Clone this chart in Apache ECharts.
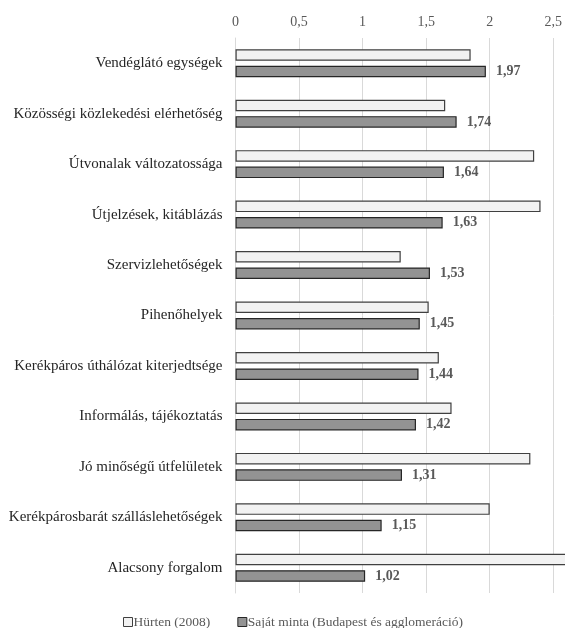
<!DOCTYPE html>
<html>
<head>
<meta charset="utf-8">
<script src="https://cdn.jsdelivr.net/npm/echarts@6/dist/echarts.min.js"></script>
<style>html,body{margin:0;padding:0;background:#fff}#c{width:565px;height:628px}</style>
</head>
<body>
<div id="c"></div>
<script>
const categories = ["Vendéglátó egységek","Közösségi közlekedési elérhetőség","Útvonalak változatossága","Útjelzések, kitáblázás","Szervizlehetőségek","Pihenőhelyek","Kerékpáros úthálózat kiterjedtsége","Informálás, tájékoztatás","Jó minőségű útfelületek","Kerékpárosbarát szálláslehetőségek","Alacsony forgalom"];
const hurten = [1.85,1.65,2.35,2.4,1.3,1.52,1.6,1.7,2.32,2.0,2.65];
const sajat = [1.97,1.74,1.64,1.63,1.53,1.45,1.44,1.42,1.31,1.15,1.02];
const seriesNames = ["Hürten (2008)","Saját minta (Budapest és agglomeráció)"];
const xTicks = [0,0.5,1,1.5,2,2.5];

const font = "'Liberation Serif','Times New Roman',serif";
const chart = echarts.init(document.getElementById('c'), null, {renderer:'canvas'});
chart.setOption({
  animation:false,
  textStyle:{fontFamily:font},
  grid:{left:235.5,right:10,top:38,bottom:35,containLabel:false},
  legend:{
    bottom:-6, left:118,
    itemWidth:9,itemHeight:9,itemGap:27,
    textStyle:{fontFamily:font,fontSize:13.5,color:'#595959',padding:[0,0,0,-4]},
    data:[
      {name:seriesNames[0],icon:'rect',itemStyle:{color:'#f2f2f2',borderColor:'#404040',borderWidth:1}},
      {name:seriesNames[1],icon:'rect',itemStyle:{color:'#939393',borderColor:'#262626',borderWidth:1}}
    ]
  },
  xAxis:{
    type:'value',position:'top',min:0,max:2.5,interval:0.5,
    axisLine:{show:false},axisTick:{show:false},
    axisLabel:{fontFamily:font,fontSize:14,color:'#595959',margin:9,
      formatter:v=>String(v).replace('.',',')},
    splitLine:{show:true,lineStyle:{color:'#d9d9d9',width:1}}
  },
  yAxis:{
    type:'category',inverse:true,data:categories,
    axisLine:{show:true,lineStyle:{color:'#d9d9d9'}},axisTick:{show:false},
    axisLabel:{fontFamily:font,fontSize:15,color:'#262626',margin:13}
  },
  series:[
    {name:seriesNames[0],type:'bar',data:hurten,barWidth:11.5,barGap:'43%',clip:false,
     itemStyle:{color:'#f2f2f2',borderColor:'#404040',borderWidth:1.2}},
    {name:seriesNames[1],type:'bar',data:sajat,barWidth:11.5,barGap:'43%',clip:false,
     itemStyle:{color:'#939393',borderColor:'#262626',borderWidth:1.2},
     label:{show:true,position:'right',distance:10,fontFamily:font,fontSize:14,fontWeight:'bold',color:'#595959',
       formatter:p=>p.value.toFixed(2).replace('.',',')}}
  ]
});
</script>
</body>
</html>
